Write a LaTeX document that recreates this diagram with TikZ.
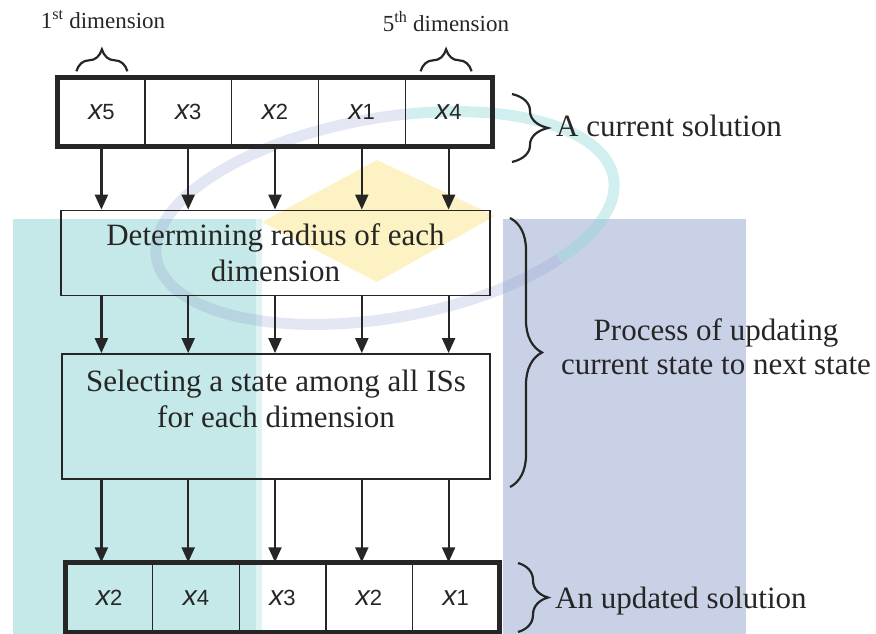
\documentclass[tikz,border=0pt]{standalone}
\usepackage{fontspec}
\setmainfont{Liberation Serif}
\setsansfont{Liberation Sans}
\usetikzlibrary{arrows.meta,decorations.pathreplacing,calc}

\definecolor{ink}{HTML}{262626}
\definecolor{tealbg}{HTML}{C4E9E8}
\definecolor{tealedge}{HTML}{DFF3F2}
\definecolor{bluebg}{HTML}{C9D1E6}
\definecolor{yellowbg}{HTML}{FCF0B8}
\definecolor{ringteal}{HTML}{8ED6D6}
\definecolor{ringlav}{HTML}{8E9BD0}

% variable name with its index, as printed in each cell
\newcommand\cellvar[1]{{\sffamily\fontsize{28}{28}\selectfont\itshape x}{\sffamily\fontsize{22}{22}\selectfont #1}}

\tikzset{
  cell/.style={draw=ink, line width=1.4, minimum height=68, inner sep=0, text=ink},
  procbox/.style={draw=ink, line width=1.8, inner sep=0, align=center, text=ink,
                  font=\fontsize{31}{36}\selectfont},
  arr/.style={draw=ink, line width=2.2, -{Triangle[width=13pt,length=15pt]}},
  thickframe/.style={draw=ink, line width=5},
  brc/.style={draw=ink, line width=2.2, decorate},
  toplabel/.style={text=ink, font=\fontsize{23}{26}\selectfont, inner sep=0},
  sidelabel/.style={text=ink, font=\fontsize{31}{34}\selectfont, inner sep=0, align=center}
}

\begin{document}
\begin{tikzpicture}[x=1pt, y=-1pt]
\useasboundingbox (0,0) rectangle (876,634);

% --- background emblem ---
\fill[tealbg] (13,219) rectangle (256,634);
\fill[tealedge] (256,219) rectangle (262,634);
\fill[bluebg] (503,219) rectangle (746,634);
\begin{scope}[shift={(385,218)}, rotate=10]
  \draw[ringteal, opacity=0.4, line width=11]
    (-80:232 and 100) arc[start angle=-80, end angle=45, x radius=232, y radius=100];
  \draw[ringlav, opacity=0.25, line width=11]
    (45:232 and 100) arc[start angle=45, end angle=280, x radius=232, y radius=100];
\end{scope}
\fill[yellowbg, opacity=0.85] (377,160) -- (495,216) -- (377,282) -- (262,222) -- cycle;

% --- current solution ---
\foreach \v [count=\i] in {5,3,2,1,4} {
  \node[cell, minimum width=86.8] (c\i) at ({58+43.4+86.8*(\i-1)},112) {\cellvar{\v}};
}
\draw[thickframe] (c1.north west) rectangle (c5.south east);

% dimension braces and labels
\draw[brc, decoration={brace, amplitude=22}]
  ($(c1.north)+(-25,-6)$) -- ($(c1.north)+(26,-6)$);
\draw[brc, decoration={brace, amplitude=22}]
  ($(c5.north)+(-28,-6)$) -- ($(c5.north)+(23,-6)$);
\node[toplabel] (l1) at (103,20) {1\textsuperscript{st} dimension};
\node[toplabel] (l5) at (446,22) {5\textsuperscript{th} dimension};

% --- processing steps ---
\node[procbox, minimum width=429, minimum height=85] (p1) at (275.5,253)
  {Determining radius of each\\dimension};
\node[procbox, minimum width=428, minimum height=125] (p2) at (276,416.5)
  {Selecting a state among all ISs\\for each dimension\\\mbox{}};

% --- updated solution ---
\foreach \v [count=\i] in {2,4,3,2,1} {
  \node[cell, minimum width=86.6, minimum height=69] (d\i) at ({66+43.3+86.6*(\i-1)},597.5) {\cellvar{\v}};
}
\draw[thickframe] (d1.north west) rectangle (d5.south east);

% --- arrows ---
\foreach \i in {1,...,5} {
  \draw[arr] (c\i.south) -- (c\i.south |- p1.north);
  \draw[arr] (c\i.south |- p1.south) -- (c\i.south |- p2.north);
  \draw[arr] (c\i.south |- p2.south) -- (c\i.south |- d1.north);
}

% --- side braces and labels ---
\draw[brc, decoration={brace, amplitude=36}] (512,94) -- (512,162);
\node[sidelabel, anchor=west] (s1) at (556,126) {A current solution};
\draw[brc, decoration={brace, amplitude=32}] (510,218) -- (510,487);
\node[sidelabel] (s2) at (716,347) {Process of updating\\current state to next state};
\draw[brc, decoration={brace, amplitude=30}] (518,563) -- (518,632);
\node[sidelabel, anchor=west] (s3) at (555,601) {An updated solution};
\end{tikzpicture}
\end{document}
